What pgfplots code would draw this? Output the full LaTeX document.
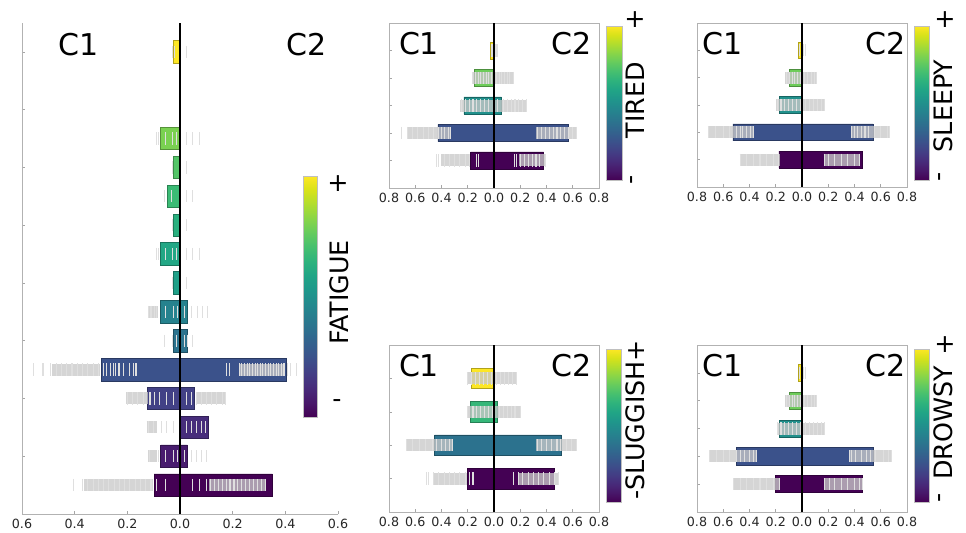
\documentclass[border=0pt]{standalone}
\usepackage{fontspec}
\setmainfont{DejaVu Sans}
\usepackage{pgfplots}
\pgfplotsset{compat=1.18}
\usetikzlibrary{calc}
\definecolor{v00}{HTML}{FDE725}
\definecolor{v03}{HTML}{7AD151}
\definecolor{v04}{HTML}{54C568}
\definecolor{v05}{HTML}{3BBB75}
\definecolor{v06}{HTML}{2AB07F}
\definecolor{v07}{HTML}{22A785}
\definecolor{v08}{HTML}{1FA088}
\definecolor{v09}{HTML}{26828E}
\definecolor{v10}{HTML}{2C738E}
\definecolor{v11}{HTML}{3B528B}
\definecolor{v12}{HTML}{424186}
\definecolor{v13}{HTML}{472D7B}
\definecolor{v14}{HTML}{481C6E}
\definecolor{v15}{HTML}{440154}
\definecolor{sgreen}{HTML}{6DCD59}
\definecolor{steal}{HTML}{21918C}
\definecolor{sgreen2}{HTML}{35B779}
\definecolor{sblue2}{HTML}{2C728E}
\newcommand{\clab}{\fontsize{22.5}{24}\selectfont}
\newcommand{\cblab}{\fontsize{19}{21}\selectfont}
\pgfplotsset{
  rugband/.style={draw=gray!42, line width=9pt, draw opacity=0.78, unbounded coords=jump, forget plot},
  rug/.style={only marks, mark=|, mark size=4.6pt, mark options={draw=gray!25, line width=0.8pt}, forget plot},
  hb/.style={xbar, bar shift=0pt, fill=#1, draw=#1!70!black, line width=0.5pt, forget plot},
  zeroline/.style={black, line width=1pt, forget plot},
  base/.style={scale only axis, clip=false, enlargelimits=false,
    tick align=inside, major tick length=2.5pt,
    tick style={gray!70, line width=0.4pt},
    axis line style={gray!60, line width=0.5pt},
    yticklabels={},
    tick label style={font=\fontsize{9.5}{11}\selectfont, text=black!85},
    /pgf/number format/assume math mode=true,
    colormap/viridis, point meta min=0, point meta max=1,
    colorbar shift/.style={}},
  cb/.style n args={4}{colorbar, colorbar style={at={($(parent axis.south west)+(#1,#2)$)}, anchor=south west,
    width=#3, height=#4, scale only axis, ytick=\empty, axis line style={gray!50, line width=0.4pt}}},
  small/.style={base, width=157.5pt, xmin=-0.8, xmax=0.8,
    xtick={-0.8,-0.6,-0.4,-0.2,0,0.2,0.4,0.6,0.8},
    xticklabels={0.8,0.6,0.4,0.2,0.0,0.2,0.4,0.6,0.8},
    xtick pos=bottom, ytick pos=left, bar width=0.62},
}
\begin{document}
\begin{tikzpicture}
\useasboundingbox (0,0) rectangle (724.5pt,399pt);
% ---------------- FATIGUE (large panel) ----------------
\begin{axis}[base, at={(16.5pt,13.5pt)}, anchor=south west,
  width=237pt, height=368.25pt,
  xmin=-0.6, xmax=0.6, ymin=-1, ymax=16,
  axis x line*=bottom, axis y line*=left,
  xtick={-0.6,-0.4,-0.2,0,0.2,0.4,0.6},
  xticklabels={0.6,0.4,0.2,0.0,0.2,0.4,0.6},
  ytick={1,3,5,7,9,11,13,15}, yticklabels={}, bar width=0.78,
  cb={210.75pt}{72.75pt}{10.5pt}{180.75pt}]
\addplot[hb=v00] coordinates {(-0.024,15)};
\addplot[hb=v03] coordinates {(-0.073,12)};
\addplot[hb=v04] coordinates {(-0.024,11)};
\addplot[hb=v05] coordinates {(-0.049,10)};
\addplot[hb=v06] coordinates {(-0.024,9)};
\addplot[hb=v07] coordinates {(-0.073,8)};
\addplot[hb=v08] coordinates {(-0.024,7)};
\addplot[hb=v09] coordinates {(-0.073,6) (0.028,6)};
\addplot[hb=v10] coordinates {(-0.024,5) (0.028,5)};
\addplot[hb=v11] coordinates {(-0.297,4) (0.405,4)};
\addplot[hb=v12] coordinates {(-0.123,3) (0.055,3)};
\addplot[hb=v13] coordinates {(0.108,2)};
\addplot[hb=v14] coordinates {(-0.073,1) (0.028,1)};
\addplot[hb=v15] coordinates {(-0.098,0) (0.351,0)};
\addplot[rugband] coordinates {(-0.121,6) (-0.085,6) (0,nan)
  (-0.486,4) (-0.303,4) (0,nan) (0.225,4) (0.400,4) (0,nan)
  (-0.205,3) (-0.123,3) (0,nan) (0.062,3) (0.172,3) (0,nan)
  (-0.127,2) (-0.089,2) (0,nan) (-0.121,1) (-0.089,1) (0,nan)
  (-0.366,0) (-0.102,0) (0,nan) (0.112,0) (0.326,0)};
\addplot[rug] coordinates {
 (-0.029,15) (-0.020,15) (0.026,15)
 (-0.089,12) (-0.081,12) (-0.054,12) (-0.030,12) (-0.014,12) (0.026,12) (0.047,12) (0.074,12)
 (-0.029,11) (0.026,11)
 (-0.058,10) (-0.033,10) (0.026,10) (0.049,10)
 (-0.029,9) (0.026,9)
 (-0.089,8) (-0.081,8) (-0.054,8) (-0.030,8) (-0.014,8) (0.026,8) (0.047,8) (0.074,8)
 (-0.029,7) (0.026,7)
 (-0.121,6) (-0.110,6) (-0.098,6) (-0.088,6) (-0.055,6) (-0.026,6) (-0.008,6) (0.018,6) (0.043,6) (0.068,6) (0.087,6) (0.106,6)
 (-0.058,5) (-0.030,5) (-0.015,5) (0.018,5) (0.028,5) (0.049,5)
 (-0.557,4) (-0.523,4) (-0.517,4) (-0.490,4) (-0.470,4) (-0.450,4) (-0.430,4) (-0.410,4) (-0.390,4) (-0.370,4) (-0.350,4) (-0.330,4) (-0.310,4)
 (-0.291,4) (-0.278,4) (-0.265,4) (-0.253,4) (-0.246,4) (-0.234,4) (-0.228,4) (-0.215,4) (-0.190,4) (-0.177,4) (-0.167,4)
 (0.175,4) (0.187,4) (0.225,4) (0.235,4) (0.245,4) (0.255,4) (0.265,4) (0.275,4) (0.285,4) (0.295,4) (0.305,4) (0.315,4) (0.325,4)
 (0.335,4) (0.345,4) (0.355,4) (0.365,4) (0.375,4) (0.385,4) (0.395,4) (0.410,4) (0.420,4) (0.443,4)
 (-0.200,3) (-0.180,3) (-0.160,3) (-0.140,3) (-0.114,3) (-0.096,3) (-0.077,3) (-0.052,3) (-0.026,3) (0.024,3) (0.043,3) (0.062,3) (0.080,3) (0.100,3) (0.120,3) (0.140,3) (0.160,3) (0.172,3)
 (-0.120,2) (-0.100,2) (-0.070,2) (-0.052,2) (-0.026,2) (0.024,2) (0.043,2) (0.062,2) (0.080,2) (0.097,2)
 (-0.115,1) (-0.083,1) (-0.055,1) (-0.026,1) (-0.008,1) (0.018,1) (0.043,1) (0.062,1) (0.080,1) (0.100,1)
 (-0.404,0) (-0.370,0) (-0.350,0) (-0.330,0) (-0.310,0) (-0.290,0) (-0.270,0) (-0.250,0) (-0.230,0) (-0.210,0) (-0.190,0) (-0.170,0) (-0.150,0) (-0.130,0) (-0.110,0) (-0.089,0) (-0.055,0)
 (0.049,0) (0.074,0) (0.100,0) (0.115,0) (0.130,0) (0.145,0) (0.160,0) (0.175,0) (0.190,0) (0.205,0) (0.220,0) (0.235,0) (0.250,0) (0.265,0) (0.280,0) (0.295,0) (0.310,0) (0.326,0)
};
\addplot[zeroline] coordinates {(0,-1) (0,16)};
\node[font=\clab] at (axis description cs:0.180,0.957) {C1};
\node[font=\clab] at (axis description cs:0.900,0.957) {C2};
\node[font=\cblab, rotate=90] at (axis description cs:1.005,0.451) {FATIGUE};
\node[font=\cblab] at (axis description cs:1.0,0.673) {+};
\node[font=\cblab] at (axis description cs:0.997,0.226) {-};
\end{axis}
% ---------------- TIRED ----------------
\begin{axis}[small, at={(291.75pt,258pt)}, anchor=south west, height=123.75pt,
  ymin=-1, ymax=5, ytick={0,1,2,3,4}, yticklabels={},
  cb={162.75pt}{6pt}{12pt}{115.5pt}]
\addplot[hb=v00] coordinates {(-0.025,4)};
\addplot[hb=sgreen] coordinates {(-0.153,3)};
\addplot[hb=steal] coordinates {(-0.229,2) (0.056,2)};
\addplot[hb=v11] coordinates {(-0.427,1) (0.570,1)};
\addplot[hb=v15] coordinates {(-0.178,0) (0.379,0)};
\addplot[rugband] coordinates {(-0.170,3) (0.150,3) (0,nan) (-0.257,2) (0.247,2) (0,nan)
  (-0.656,1) (-0.326,1) (0,nan) (0.323,1) (0.628,1) (0,nan)
  (-0.402,0) (-0.186,0) (0,nan) (0.190,0) (0.390,0)};
\addplot[rug] coordinates {
 (-0.022,4) (-0.010,4) (0.012,4) (0.023,4)
 (-0.165,3) (-0.140,3) (-0.120,3) (-0.100,3) (-0.080,3) (-0.060,3) (-0.040,3) (-0.020,3) (0.020,3) (0.040,3) (0.060,3) (0.080,3) (0.100,3) (0.120,3) (0.145,3)
 (-0.250,2) (-0.220,2) (-0.190,2) (-0.160,2) (-0.130,2) (-0.100,2) (-0.070,2) (-0.040,2) (0.030,2) (0.070,2) (0.100,2) (0.130,2) (0.160,2) (0.190,2) (0.220,2) (0.245,2)
 (-0.707,1) (-0.660,1) (-0.620,1) (-0.580,1) (-0.540,1) (-0.500,1) (-0.460,1) (-0.420,1) (-0.400,1) (-0.380,1) (-0.350,1) (-0.330,1)
 (0.330,1) (0.360,1) (0.390,1) (0.420,1) (0.450,1) (0.480,1) (0.510,1) (0.540,1) (0.570,1) (0.600,1) (0.628,1)
 (-0.440,0) (-0.420,0) (-0.380,0) (-0.340,0) (-0.300,0) (-0.260,0) (-0.220,0) (-0.190,0) (-0.135,0) (-0.120,0)
 (0.158,0) (0.170,0) (0.200,0) (0.230,0) (0.260,0) (0.290,0) (0.320,0) (0.350,0) (0.390,0)
};
\addplot[zeroline] coordinates {(0,-1) (0,5)};
\node[font=\clab] at (axis description cs:0.143,0.873) {C1};
\node[font=\clab] at (axis description cs:0.871,0.873) {C2};
\node[font=\cblab, rotate=90] at (axis description cs:1.171,0.533) {TIRED};
\node[font=\cblab] at (axis description cs:1.171,1.018) {+};
\node[font=\cblab, rotate=90] at (axis description cs:1.167,0.048) {-};
\end{axis}
% ---------------- SLEEPY ----------------
\begin{axis}[small, at={(522.75pt,258.75pt)}, anchor=south west, height=123pt,
  ymin=-1, ymax=5, ytick={0,1,2,3,4}, yticklabels={},
  cb={162.75pt}{5.25pt}{11.25pt}{115.5pt}]
\addplot[hb=v00] coordinates {(-0.025,4)};
\addplot[hb=sgreen] coordinates {(-0.100,3)};
\addplot[hb=steal] coordinates {(-0.176,2)};
\addplot[hb=v11] coordinates {(-0.527,1) (0.542,1)};
\addplot[hb=v15] coordinates {(-0.176,0) (0.458,0)};
\addplot[rugband] coordinates {(-0.127,3) (0.109,3) (0,nan) (-0.196,2) (0.173,2) (0,nan)
  (-0.718,1) (-0.374,1) (0,nan) (0.377,1) (0.669,1) (0,nan)
  (-0.476,0) (-0.170,0) (0,nan) (0.165,0) (0.440,0)};
\addplot[rug] coordinates {
 (-0.022,4) (0.012,4) (0.025,4)
 (-0.120,3) (-0.095,3) (-0.075,3) (-0.055,3) (-0.035,3) (-0.015,3) (0.020,3) (0.045,3) (0.070,3) (0.095,3) (0.109,3)
 (-0.190,2) (-0.160,2) (-0.130,2) (-0.100,2) (-0.070,2) (-0.040,2) (-0.015,2) (0.030,2) (0.060,2) (0.090,2) (0.120,2) (0.150,2) (0.173,2)
 (-0.710,1) (-0.660,1) (-0.600,1) (-0.550,1) (-0.500,1) (-0.470,1) (-0.450,1) (-0.420,1) (-0.390,1) (-0.370,1)
 (0.380,1) (0.400,1) (0.420,1) (0.450,1) (0.480,1) (0.510,1) (0.550,1) (0.600,1) (0.650,1) (0.669,1)
 (-0.470,0) (-0.420,0) (-0.370,0) (-0.320,0) (-0.270,0) (-0.220,0) (-0.180,0)
 (0.170,0) (0.200,0) (0.250,0) (0.300,0) (0.350,0) (0.400,0) (0.440,0)
};
\addplot[zeroline] coordinates {(0,-1) (0,5)};
\node[font=\clab] at (axis description cs:0.120,0.872) {C1};
\node[font=\clab] at (axis description cs:0.900,0.872) {C2};
\node[font=\cblab, rotate=90] at (axis description cs:1.171,0.494) {SLEEPY};
\node[font=\cblab] at (axis description cs:1.181,1.018) {+};
\node[font=\cblab, rotate=90] at (axis description cs:1.167,0.061) {-};
\end{axis}
% ---------------- SLUGGISH ----------------
\begin{axis}[small, at={(291.75pt,15pt)}, anchor=south west, height=125.25pt,
  ymin=-1, ymax=4, ytick={0,1,2,3}, yticklabels={},
  cb={162.75pt}{7.5pt}{11.25pt}{114.75pt}]
\addplot[hb=v00] coordinates {(-0.173,3)};
\addplot[hb=sgreen2] coordinates {(-0.178,2) (0.025,2)};
\addplot[hb=sblue2] coordinates {(-0.453,1) (0.514,1)};
\addplot[hb=v15] coordinates {(-0.204,0) (0.458,0)};
\addplot[rugband] coordinates {(-0.206,3) (0.170,3) (0,nan) (-0.206,2) (0.200,2) (0,nan)
  (-0.669,1) (-0.313,1) (0,nan) (0.323,1) (0.628,1) (0,nan)
  (-0.466,0) (-0.206,0) (0,nan) (0.183,0) (0.489,0)};
\addplot[rug] coordinates {
 (-0.200,3) (-0.170,3) (-0.140,3) (-0.110,3) (-0.080,3) (-0.050,3) (-0.020,3) (0.020,3) (0.050,3) (0.080,3) (0.110,3) (0.140,3) (0.170,3)
 (-0.200,2) (-0.160,2) (-0.130,2) (-0.100,2) (-0.070,2) (-0.040,2) (-0.010,2) (0.040,2) (0.070,2) (0.100,2) (0.130,2) (0.160,2) (0.200,2)
 (-0.669,1) (-0.620,1) (-0.570,1) (-0.520,1) (-0.470,1) (-0.440,1) (-0.400,1) (-0.370,1) (-0.340,1) (-0.313,1)
 (0.330,1) (0.360,1) (0.400,1) (0.440,1) (0.480,1) (0.510,1) (0.550,1) (0.590,1) (0.628,1)
 (-0.517,0) (-0.497,0) (-0.460,0) (-0.420,0) (-0.380,0) (-0.340,0) (-0.300,0) (-0.260,0) (-0.220,0) (-0.185,0) (-0.160,0)
 (0.145,0) (0.190,0) (0.220,0) (0.260,0) (0.300,0) (0.340,0) (0.380,0) (0.420,0) (0.460,0) (0.489,0)
};
\addplot[zeroline] coordinates {(0,-1) (0,4)};
\node[font=\clab] at (axis description cs:0.143,0.874) {C1};
\node[font=\clab] at (axis description cs:0.871,0.874) {C2};
\node[font=\cblab, rotate=90] at (axis description cs:1.171,0.551) {-SLUGGISH+};
\end{axis}
% ---------------- DROWSY ----------------
\begin{axis}[small, at={(522.75pt,15pt)}, anchor=south west, height=125.25pt,
  ymin=-1, ymax=5, ytick={0,1,2,3,4}, yticklabels={},
  cb={162.75pt}{7.5pt}{11.25pt}{114.75pt}]
\addplot[hb=v00] coordinates {(-0.025,4)};
\addplot[hb=sgreen] coordinates {(-0.100,3)};
\addplot[hb=steal] coordinates {(-0.176,2)};
\addplot[hb=v11] coordinates {(-0.501,1) (0.542,1)};
\addplot[hb=v15] coordinates {(-0.201,0) (0.458,0)};
\addplot[rugband] coordinates {(-0.127,3) (0.109,3) (0,nan) (-0.191,2) (0.173,2) (0,nan)
  (-0.705,1) (-0.344,1) (0,nan) (0.360,1) (0.680,1) (0,nan)
  (-0.522,0) (-0.170,0) (0,nan) (0.165,0) (0.458,0)};
\addplot[rug] coordinates {
 (-0.022,4) (0.012,4) (0.025,4)
 (-0.120,3) (-0.095,3) (-0.075,3) (-0.055,3) (-0.035,3) (-0.015,3) (0.020,3) (0.045,3) (0.070,3) (0.095,3) (0.109,3)
 (-0.185,2) (-0.160,2) (-0.130,2) (-0.100,2) (-0.070,2) (-0.040,2) (-0.015,2) (0.030,2) (0.060,2) (0.090,2) (0.120,2) (0.150,2) (0.173,2)
 (-0.705,1) (-0.650,1) (-0.600,1) (-0.550,1) (-0.500,1) (-0.470,1) (-0.440,1) (-0.400,1) (-0.370,1) (-0.344,1)
 (0.360,1) (0.380,1) (0.410,1) (0.450,1) (0.490,1) (0.520,1) (0.560,1) (0.620,1) (0.660,1) (0.680,1)
 (-0.520,0) (-0.470,0) (-0.420,0) (-0.370,0) (-0.320,0) (-0.270,0) (-0.220,0) (-0.170,0)
 (0.170,0) (0.210,0) (0.250,0) (0.300,0) (0.350,0) (0.400,0) (0.440,0) (0.458,0)
};
\addplot[zeroline] coordinates {(0,-1) (0,5)};
\node[font=\clab] at (axis description cs:0.120,0.874) {C1};
\node[font=\clab] at (axis description cs:0.900,0.874) {C2};
\node[font=\cblab, rotate=90] at (axis description cs:1.171,0.533) {DROWSY};
\node[font=\cblab] at (axis description cs:1.181,1.0) {+};
\node[font=\cblab, rotate=90] at (axis description cs:1.167,0.084) {-};
\end{axis}
\end{tikzpicture}
\end{document}
